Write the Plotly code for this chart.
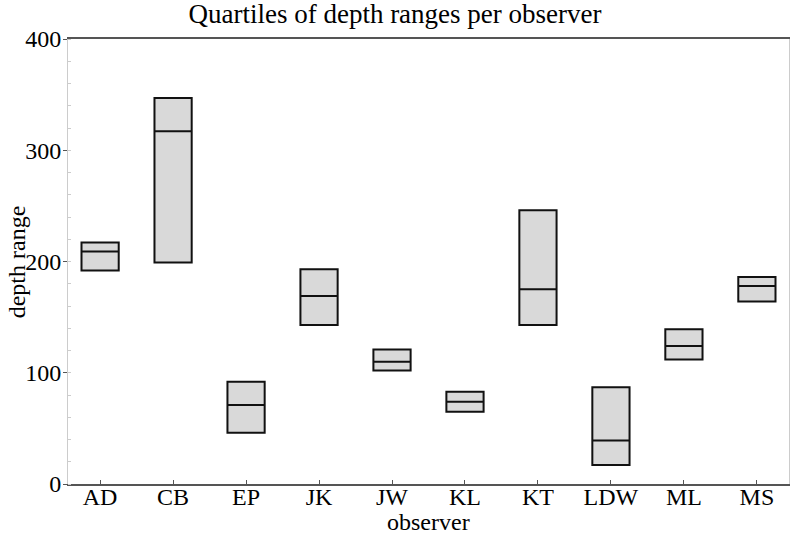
import plotly.graph_objects as go

observers = ["AD", "CB", "EP", "JK", "JW", "KL", "KT", "LDW", "ML", "MS"]
q1_vals = [192, 199, 46, 143, 102, 65, 143, 17, 112, 164]
median_vals = [209, 317, 71, 169, 110, 74, 175, 39, 124, 178]
q3_vals = [217, 347, 92, 193, 121, 83, 246, 87, 139, 186]

FONT = "Liberation Serif, Times New Roman, serif"

fig = go.Figure()
fig.add_trace(go.Box(
    x=observers,
    q1=q1_vals,
    median=median_vals,
    q3=q3_vals,
    lowerfence=q1_vals,
    upperfence=q3_vals,
    width=0.51,
    whiskerwidth=0,
    fillcolor="#d9d9d9",
    line=dict(color="#111111", width=2),
    boxpoints=False,
    showlegend=False,
    hoverinfo="skip",
))

fig.update_layout(
    width=790, height=536,
    margin=dict(l=68, r=1, t=39, b=52),
    paper_bgcolor="white",
    plot_bgcolor="white",
    font=dict(family=FONT, size=24, color="black"),
    title=dict(text="Quartiles of depth ranges per observer", x=0.5, xref="container",
               xanchor="center", y=0.993, yref="container", yanchor="top",
               font=dict(family=FONT, size=27, color="black")),
    xaxis=dict(
        type="category",
        range=[-0.44, 9.44],
        automargin=False,
        showline=True, linecolor="#555555", linewidth=1.5, mirror=True,
        ticks="inside", ticklen=4, tickcolor="#555555",
        ticklabelstandoff=-10,
        showgrid=False, zeroline=False,
        tickfont=dict(family=FONT, size=24),
    ),
    yaxis=dict(
        range=[0, 400],
        automargin=False,
        tickvals=[0, 100, 200, 300, 400],
        showline=True, linecolor="#cccccc", linewidth=1, mirror=True,
        ticks="outside", ticklen=4, tickcolor="#555555",
        ticklabelstandoff=-3,
        minor=dict(dtick=20, ticks="inside", ticklen=3, tickcolor="#cccccc"),
        showgrid=False, zeroline=False,
        tickfont=dict(family=FONT, size=24),
    ),
    annotations=[
        dict(text="observer", xref="paper", yref="paper", x=0.5, y=-0.085,
             xanchor="center", yanchor="middle", showarrow=False,
             font=dict(family=FONT, size=24)),
        dict(text="depth range", xref="paper", yref="paper", x=-0.071, y=0.5,
             xanchor="center", yanchor="middle", textangle=-90, showarrow=False,
             font=dict(family=FONT, size=24)),
    ],
)

fig.write_html(
    "out.html",
    config={"displayModeBar": False},
    post_script="document.body.style.margin='0';document.body.style.padding='0';",
)
